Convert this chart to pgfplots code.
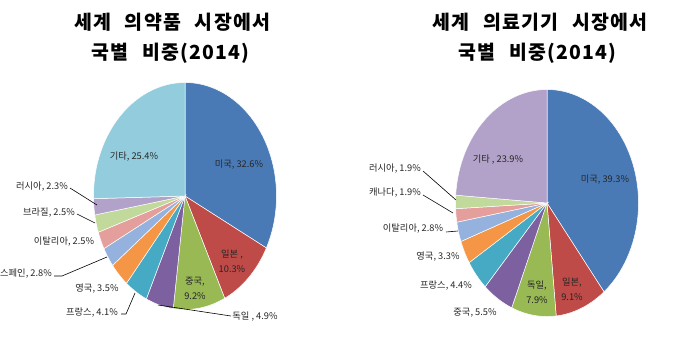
\documentclass[border=0pt]{standalone}
\usepackage{pgfplots}
\pgfplotsset{compat=1.18}
\usepackage{fontspec}
\setmainfont{Noto Sans CJK KR}
\newfontfamily\titlefont[LetterSpace=6, WordSpace=2.5]{Noto Sans CJK KR}
\definecolor{c1}{HTML}{4A7AB5}
\definecolor{c2}{HTML}{BE4B48}
\definecolor{c3}{HTML}{98B954}
\definecolor{c4}{HTML}{7D60A0}
\definecolor{c5}{HTML}{46AAC5}
\definecolor{c6}{HTML}{F59646}
\definecolor{c7}{HTML}{95B2DE}
\definecolor{c8}{HTML}{E49E9C}
\definecolor{c9}{HTML}{C2D99C}
\definecolor{c10}{HTML}{B2A2CA}
\definecolor{c11}{HTML}{93CDDD}
% pie data: value/colour, clockwise from 12 o'clock
\def\pieA{32.6/c1,10.3/c2,9.2/c3,4.9/c4,4.1/c5,3.5/c6,2.8/c7,2.5/c8,2.5/c9,2.3/c10,25.4/c11}
\def\totA{100.1}
\def\pieB{39.3/c1,9.1/c2,7.9/c3,5.5/c4,4.4/c5,3.3/c6,2.8/c7,1.9/c8,1.9/c9,23.9/c10}
\def\totB{100.0}
\newcommand\pie[6]{% #1 data, #2 total, #3 cx, #4 cy, #5 rx, #6 ry
  \gdef\acc{0}%
  \foreach \v/\c in #1 {%
    \pgfmathsetmacro\a{\acc}%
    \pgfmathsetmacro\b{\acc+360*\v/#2}%
    \xdef\acc{\b}%
    \edef\temp{\noexpand\addplot[fill=\c, draw=white, line width=0.5pt, domain=\a:\b, samples=80]
      ({#3+#5*sin(x)},{#4-#6*cos(x)}) -- (axis cs:#3,#4) -- cycle;}%
    \temp
  }%
}
\begin{document}
\begin{tikzpicture}
\begin{axis}[
  width=680bp, height=343bp, scale only axis,
  xmin=0, xmax=680, ymin=0, ymax=343, y dir=reverse,
  hide axis, clip=false,
]
\pie{\pieA}{\totA}{185}{196}{91.5}{113.5}
\pie{\pieB}{\totB}{547}{203}{91.5}{113.5}

% titles
\begin{scope}[every node/.style={font=\titlefont\bfseries\fontsize{19.5}{22}\selectfont, inner sep=0pt}]
\node at (axis cs:172,22) {세계 의약품 시장에서};
\node at (axis cs:170,53) {국별 비중(2014)};
\node at (axis cs:540,22) {세계 의료기기 시장에서};
\node at (axis cs:537,53) {국별 비중(2014)};
\end{scope}

% labels
\begin{scope}[every node/.style={font=\fontsize{9.3}{11}\selectfont, inner sep=0pt, text=black!85, align=center}]
\node at (axis cs:134,157) {기타, 25.4\%};
\node at (axis cs:239,165) {미국, 32.6\%};
\node at (axis cs:42,187) {러시아, 2.3\%};
\node at (axis cs:49,213) {브라질, 2.5\%};
\node at (axis cs:64,242) {이탈리아, 2.5\%};
\node at (axis cs:26,274) {스페인, 2.8\%};
\node at (axis cs:97,289) {영국, 3.5\%};
\node at (axis cs:92,313) {프랑스, 4.1\%};
\node at (axis cs:255,317) {독일 , 4.9\%};
\node at (axis cs:195,288) {중국,\\[4pt]9.2\%};
\node at (axis cs:232,261) {일본 ,\\[4pt]10.3\%};

\node at (axis cs:498,160) {기타 , 23.9\%};
\node at (axis cs:605,180) {미국, 39.3\%};
\node at (axis cs:395,169) {러시아, 1.9\%};
\node at (axis cs:395,193) {캐나다, 1.9\%};
\node at (axis cs:413,229) {이탈리아, 2.8\%};
\node at (axis cs:438,257) {영국, 3.3\%};
\node at (axis cs:446,286) {프랑스, 4.4\%};
\node at (axis cs:475,313) {중국, 5.5\%};
\node at (axis cs:537,292) {독일,\\[4pt]7.9\%};
\node at (axis cs:572,289) {일본,\\[4pt]9.1\%};
\end{scope}

% leader lines
\begin{scope}[black, line width=0.6pt]
\draw (axis cs:70,188) -- (axis cs:97,205);
\draw (axis cs:77,214) -- (axis cs:95,223);
\draw (axis cs:54,276) -- (axis cs:62,276) -- (axis cs:107,257);
\draw (axis cs:121,314) -- (axis cs:126,314) -- (axis cs:135,293);
\draw (axis cs:158,305) -- (axis cs:231,316);
\draw (axis cs:423,171) -- (axis cs:456,200);
\draw (axis cs:423,195) -- (axis cs:453,213);
\draw (axis cs:446,232) -- (axis cs:458,231);
\end{scope}
\path (axis cs:0,0) rectangle (axis cs:680,343);
\end{axis}
\end{tikzpicture}
\end{document}
